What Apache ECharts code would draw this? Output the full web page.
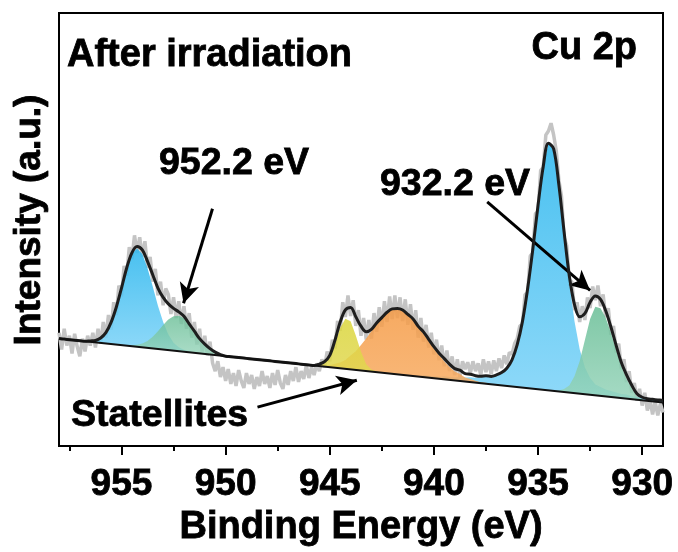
<!DOCTYPE html>
<html><head><meta charset="utf-8">
<script src="https://cdn.jsdelivr.net/npm/echarts@6/dist/echarts.min.js"></script>
<style>html,body{margin:0;padding:0;background:#fff}#c{width:678px;height:552px}</style>
</head><body><div id="c"></div>
<script>
// ---------- data ----------
const xTicks = [955, 950, 945, 940, 935, 930];
const xMinorTicks = [957.5, 952.5, 947.5, 942.5, 937.5, 932.5];
const xTickLabels = ['955', '950', '945', '940', '935', '930'];

// linear background (Binding energy, intensity) at the two ends
const bgEnergy = [958, 929];
const bgIntensity = [109.1, 44.2];

// fitted components: heights above background, 0.25 eV step, starting energy given
const compStep = 0.25;
const cu2p12Start = 956.75;
const cu2p12 = [0,1,2,5,11,22,38,58,79,94,100,95,81,63,44,28,16,8,4,2,1,0];
const cu2p12bStart = 954.75;
const cu2p12b = [0,1,2,4,7,12,18,25,31,35,36,34,28,22,15,10,6,3,1,0];
const sat1Start = 945.75;
const sat1 = [0,1,4,10,24,41,51,49,35,19,7,2,1,0];
const sat2Start = 945.75;
const sat2 = [0,1,1,2,4,6,9,14,19,26,33,41,49,56,62,66,67,66,62,58,51,44,37,30,24,18,13,9,7,4,3,2,1,1,0];
const cu2p32Start = 940.75;
const cu2p32 = [0,2,2,2,2,3,3,3,4,4,5,5,6,7,8,10,13,18,27,43,67,101,142,187,227,251,246,209,160,112,73,45,27,17,11,9,7,6,5,4,4,3,3,2,2,2,2,2];
const cu2p32bStart = 934.25;
const cu2p32b = [0,1,3,7,17,33,55,77,90,89,80,65,48,32,20,11,3,1,0];

// raw spectrum, 0.125 eV step from 958 eV downward
const rawStart = 958, rawStep = 0.125;
const rawIntensity = [
115,98,119,102,112,94,114,101,91,109,96,112,102,115,100,119,104,126,110,133,
118,146,133,163,152,183,173,202,190,214,196,212,192,208,181,192,167,180,153,167,
143,160,154,134,151,130,147,124,142,119,135,110,126,103,119,96,112,92,106,84,
76,86,70,80,66,78,63,74,61,77,66,59,74,63,72,58,70,61,76,63,
71,59,74,62,77,64,58,72,62,76,66,80,65,76,68,82,69,80,72,84,
76,88,80,96,86,108,99,127,117,146,131,153,132,148,122,138,112,130,108,128,
109,135,116,141,121,147,126,152,129,153,130,151,127,149,123,144,118,138,110,130,
106,123,100,115,93,108,87,102,81,97,76,91,72,88,70,86,78,85,74,86,
76,84,72,88,75,86,73,87,76,89,79,92,83,95,93,104,109,122,123,154,
155,193,196,236,238,280,283,316,320,328,316,300,270,254,212,204,168,167,138,146,
126,142,128,151,140,162,148,163,142,154,131,140,113,122,95,104,78,88,65,76,
54,64,46,58,41,54,36,47,32,45,31,43,34
];

// ---------- helpers ----------
function bgAt(e) {
  const t = (e - bgEnergy[0]) / (bgEnergy[1] - bgEnergy[0]);
  return bgIntensity[0] + t * (bgIntensity[1] - bgIntensity[0]);
}
const components = [
  {start: cu2p12Start, vals: cu2p12, top: 'rgba(48,184,238,0.88)', bot: 'rgba(128,212,248,0.88)'},
  {start: cu2p12bStart, vals: cu2p12b, top: 'rgba(105,190,150,0.8)', bot: 'rgba(150,212,186,0.8)'},
  {start: cu2p32Start, vals: cu2p32, top: 'rgba(48,184,238,0.88)', bot: 'rgba(128,212,248,0.88)'},
  {start: cu2p32bStart, vals: cu2p32b, top: 'rgba(105,190,150,0.85)', bot: 'rgba(150,212,186,0.85)'},
  {start: sat2Start, vals: sat2, top: 'rgba(245,155,70,0.85)', bot: 'rgba(247,170,95,0.85)'},
  {start: sat1Start, vals: sat1, top: 'rgba(218,214,60,0.85)', bot: 'rgba(225,215,80,0.85)'}
];
// envelope = background + sum of components on the common 0.25 eV grid
const sumMap = {};
components.forEach(c => c.vals.forEach((v, i) => {
  const k = Math.round((c.start - i * compStep) * 4);
  sumMap[k] = (sumMap[k] || 0) + v;
}));
const envelope = [];
for (let k = Math.round(bgEnergy[0] * 4); k >= Math.round(bgEnergy[1] * 4); k--) {
  const e = k / 4;
  envelope.push([e, bgAt(e) + (sumMap[k] || 0)]);
}
const rawData = rawIntensity.map((v, i) => [rawStart - i * rawStep, v]);

const FONT = 'Liberation Sans, Arial, Helvetica, sans-serif';

function compSeries(c, z) {
  return {
    type: 'custom', z: z, silent: true, xAxisIndex: 0, yAxisIndex: 0,
    data: [[c.start, bgAt(c.start)]],
    renderItem: function (params, api) {
      const pts = c.vals.map((v, i) => {
        const e = c.start - i * compStep;
        return api.coord([e, bgAt(e) + v]);
      });
      const eEnd = c.start - (c.vals.length - 1) * compStep;
      pts.push(api.coord([eEnd, bgAt(eEnd)]));
      pts.push(api.coord([c.start, bgAt(c.start)]));
      return {
        type: 'polygon',
        shape: {points: pts},
        style: {
          fill: new echarts.graphic.LinearGradient(0, 0, 0, 1, [
            {offset: 0, color: c.top}, {offset: 1, color: c.bot}
          ]),
          stroke: null
        }
      };
    }
  };
}

function txt(text, x, y, align, size) {
  return {type: 'text', x: x, y: y, style: {text: text, fontSize: size, fontWeight: 'bold', fontFamily: FONT, fill: '#000', stroke: '#000', lineWidth: 0.8, align: align, verticalAlign: 'middle'}};
}

const chart = echarts.init(document.getElementById('c'), null, {renderer: 'canvas'});
const option = {
  animation: false,
  grid: {left: 59, right: 15, top: 13, bottom: 99, show: true, borderColor: '#000', borderWidth: 2, backgroundColor: 'transparent'},
  xAxis: [{
    type: 'value', inverse: true, min: 929, max: 958,
    axisLine: {show: false},
    splitLine: {show: false},
    axisTick: {show: true, customValues: xTicks, length: 9, lineStyle: {color: '#000', width: 2}},
    axisLabel: {show: true, customValues: xTicks, formatter: v => xTickLabels[xTicks.indexOf(v)] ?? String(v),
      fontSize: 37, fontWeight: 'bold', color: '#000', fontFamily: FONT, margin: 20,
      textBorderColor: '#000', textBorderWidth: 0.8},
    name: 'Binding Energy (eV)', nameLocation: 'middle', nameGap: 53,
    nameTextStyle: {fontSize: 38, fontWeight: 'bold', color: '#000', fontFamily: FONT, textBorderColor: '#000', textBorderWidth: 0.8}
  }, {
    type: 'value', inverse: true, min: 929, max: 958, position: 'bottom',
    axisLine: {show: false}, splitLine: {show: false}, axisLabel: {show: false},
    axisTick: {show: true, customValues: xMinorTicks, length: 5, lineStyle: {color: '#000', width: 2}}
  }],
  yAxis: {
    type: 'value', min: 0, max: 440,
    axisLine: {show: false}, axisTick: {show: false}, axisLabel: {show: false}, splitLine: {show: false}
  },
  graphic: [
    txt('After irradiation', 67, 56, 'left', 38),
    txt('Cu 2p', 637, 49, 'right', 38),
    txt('952.2 eV', 159, 164, 'left', 37.5),
    txt('932.2 eV', 380, 185, 'left', 37.5),
    txt('Statellites', 71, 416, 'left', 37.5),
    {type: 'text', x: 30, y: 220, rotation: Math.PI / 2, style: {text: 'Intensity (a.u.)', fontSize: 37, fontWeight: 'bold', fontFamily: FONT, fill: '#000', stroke: '#000', lineWidth: 0.8, align: 'center', verticalAlign: 'middle'}}
  ],
  series: [
    {type: 'line', data: rawData, showSymbol: false, z: 1, silent: true,
     lineStyle: {color: '#c4c4c4', width: 3.5}},
    ...components.map((c, i) => compSeries(c, 2)),
    {type: 'line', data: envelope, showSymbol: false, smooth: 0.35, z: 5, silent: true,
     lineStyle: {color: '#1e1e1e', width: 3},
     markLine: {
       silent: true, symbol: ['none', 'arrow'], symbolSize: [15, 20], animation: false,
       lineStyle: {color: '#000', width: 3, type: 'solid'}, label: {show: false},
       data: [
         [{coord: [950.63, 241]}, {coord: [952.02, 145]}],
         [{coord: [937.44, 248]}, {coord: [932.5, 158]}],
         [{coord: [948.47, 39.4]}, {coord: [943.7, 66.8]}]
       ]
     }},
    {type: 'line', data: bgEnergy.map((e, i) => [e, bgIntensity[i]]), showSymbol: false, z: 6, silent: true,
     lineStyle: {color: '#111', width: 2}}
  ]
};
chart.setOption(option);
</script>
</body></html>
